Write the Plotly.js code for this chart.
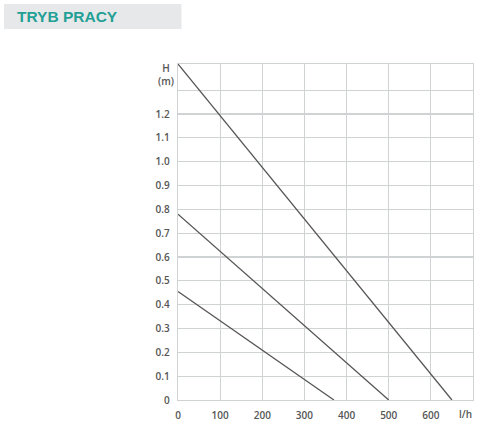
<!DOCTYPE html>
<html><head><meta charset="utf-8">
<script src="https://cdn.plot.ly/plotly-3.0.1.min.js"></script>
<style>html,body{margin:0;padding:0;background:#fff}#chart{width:480px;height:427px}</style>
</head><body><div id="chart"></div>
<script>
// Data (flow l/h vs head m)
const curve1X = [0, 650];
const curve1Y = [1.41, 0];
const curve2X = [0, 500];
const curve2Y = [0.78, 0];
const curve3X = [0, 370];
const curve3Y = [0.455, 0];
const xTicks = [0, 100, 200, 300, 400, 500, 600, 700];
const xTickText = ['0', '100', '200', '300', '400', '500', '600', ''];
const yTicks = [0, 0.1, 0.2, 0.3, 0.4, 0.5, 0.6, 0.7, 0.8, 0.9, 1.0, 1.1, 1.2, 1.3];
const yTickText = ['0', '0.1', '0.2', '0.3', '0.4', '0.5', '0.6', '0.7', '0.8', '0.9', '1.0', '1.1', '1.2', ''];

const W = 480, H = 427;
const m = {l: 177.5, r: 6.7, t: 64, b: 27.3};
const pw = W - m.l - m.r, ph = H - m.t - m.b;
const px = v => (v - m.l) / pw;          // pixel x -> paper x
const py = v => (H - m.b - v) / ph;      // pixel y -> paper y

const lineStyle = {color: '#555555', width: 1.3};
const traces = [
  {x: curve1X, y: curve1Y, mode: 'lines', line: lineStyle, hoverinfo: 'skip'},
  {x: curve2X, y: curve2Y, mode: 'lines', line: lineStyle, hoverinfo: 'skip'},
  {x: curve3X, y: curve3Y, mode: 'lines', line: lineStyle, hoverinfo: 'skip'}
];
const tickFont = {family: 'Open Sans, sans-serif', size: 10, color: '#555555', weight: 600};
const gridC = '#cfd3d3';
const layout = {
  width: W, height: H, margin: m, showlegend: false,
  paper_bgcolor: '#ffffff', plot_bgcolor: '#ffffff',
  xaxis: {range: [0, 700], tickvals: xTicks, ticktext: xTickText, showgrid: true, gridcolor: gridC, gridwidth: 1.2,
          showline: true, linecolor: gridC, linewidth: 1.2, mirror: true, zeroline: false, ticks: '', tickfont: tickFont,
          ticklabelstandoff: 6, fixedrange: true},
  yaxis: {range: [0, 1.41], tickvals: yTicks, ticktext: yTickText, showgrid: true, gridcolor: gridC, gridwidth: 1.2,
          showline: true, linecolor: gridC, linewidth: 1.2, mirror: true, zeroline: false, ticks: '', tickfont: tickFont,
          ticklabelstandoff: 5, fixedrange: true},
  shapes: [{type: 'rect', xref: 'paper', yref: 'paper', x0: px(3), x1: px(181), y0: py(29), y1: py(4),
            fillcolor: '#e7e8e9', line: {width: 0}, layer: 'below'}],
  annotations: [
    {xref: 'paper', yref: 'paper', x: px(14), y: py(17), xanchor: 'left', yanchor: 'middle', showarrow: false,
     text: '<b>TRYB PRACY</b>', font: {family: 'Liberation Sans, Arial, sans-serif', size: 15.5, color: '#23a095'}},
    {xref: 'paper', yref: 'paper', x: px(165), y: py(74), xanchor: 'center', yanchor: 'middle', showarrow: false,
     align: 'center', borderpad: 0,
     text: 'H<br>(m)', font: {family: 'Open Sans, sans-serif', size: 10, color: '#555555', weight: 600}},
    {xref: 'paper', yref: 'paper', x: px(466), y: py(414), xanchor: 'center', yanchor: 'middle', showarrow: false,
     text: 'l/h', font: tickFont}
  ]
};
Plotly.newPlot('chart', traces, layout, {displayModeBar: false, staticPlot: true});
</script></body></html>
